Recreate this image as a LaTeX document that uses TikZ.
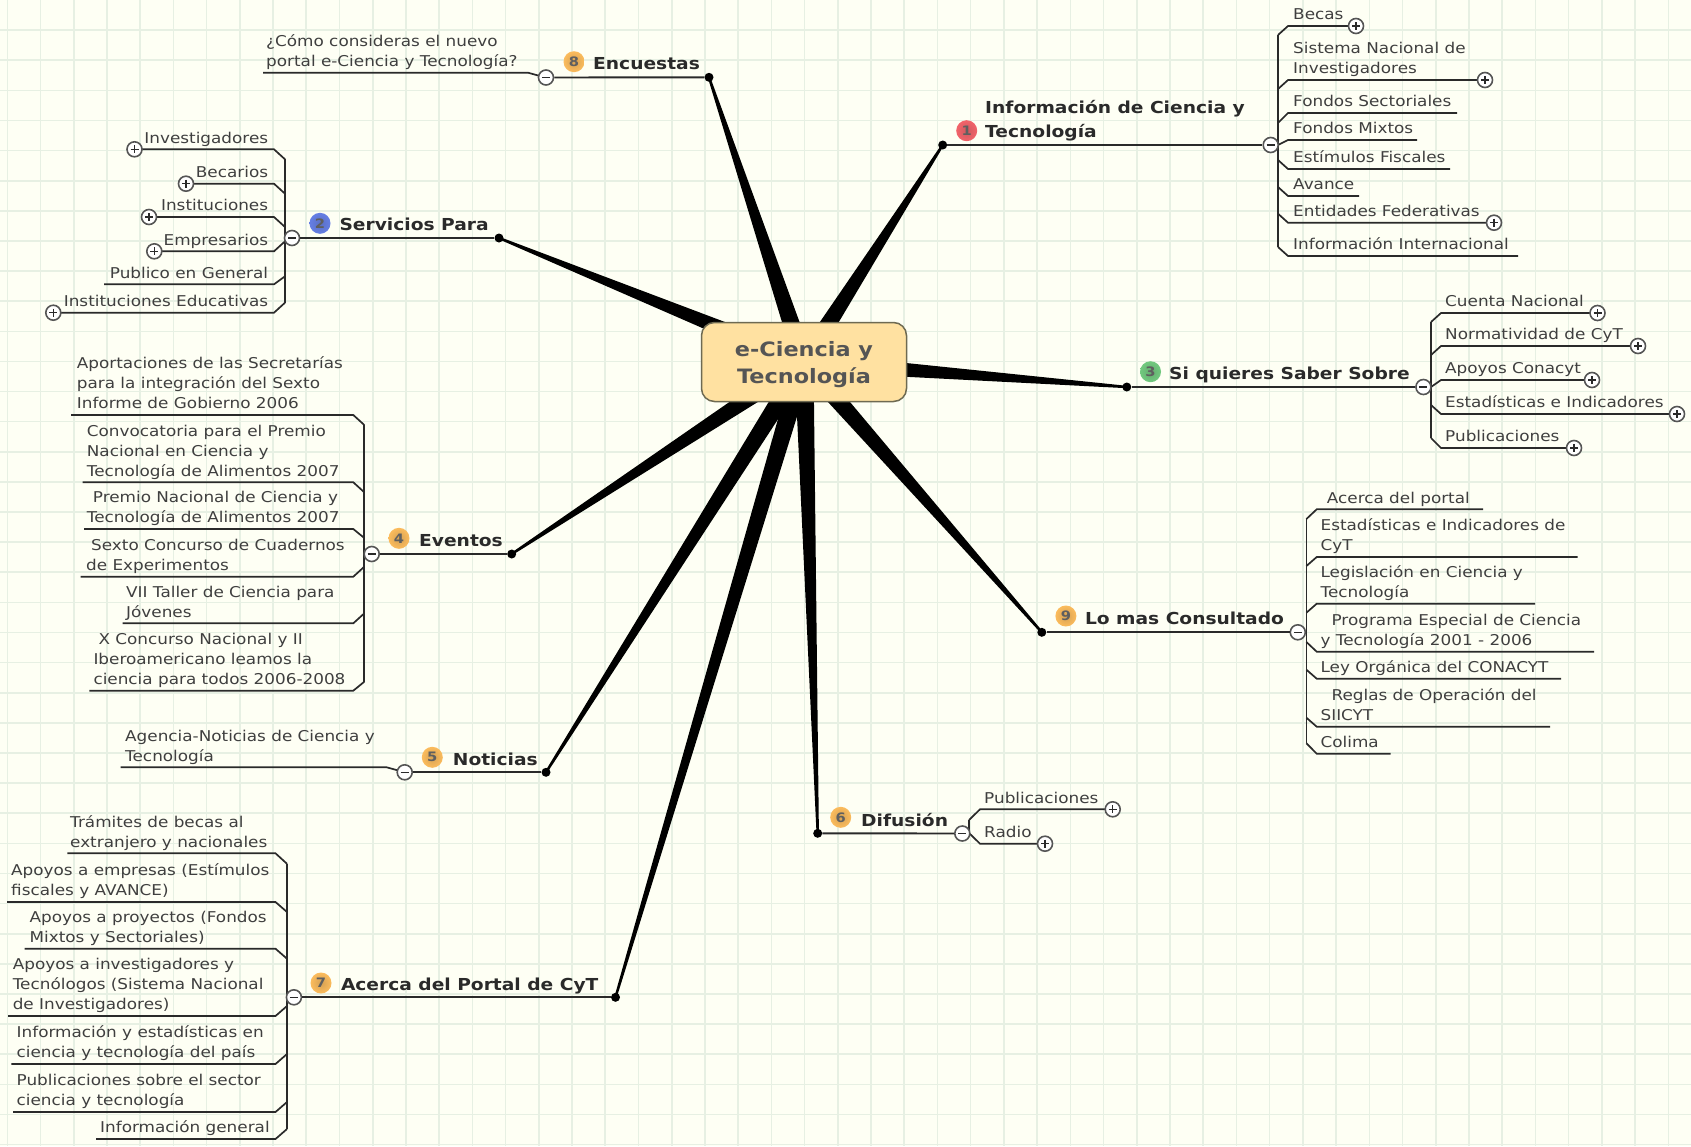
\documentclass[tikz,border=0pt]{standalone}
\usepackage{fontspec}
\setmainfont[FakeStretch=1.13]{DejaVu Sans}
\usetikzlibrary{calc}
\definecolor{hoja}{HTML}{FEFFF4}
\definecolor{rejilla}{HTML}{E7F0E3}
\definecolor{tinta}{HTML}{2A2A2A}
\definecolor{raizfondo}{HTML}{FFE1A1}
\definecolor{raizborde}{HTML}{6E6A52}
\definecolor{raiztexto}{HTML}{555555}
\definecolor{bolarojo}{HTML}{F04850}
\definecolor{bolaazul}{HTML}{4A68E0}
\definecolor{bolaverde}{HTML}{58C068}
\definecolor{bolanaranja}{HTML}{FBB040}
\tikzset{
  gridline/.style={rejilla,line width=1.6pt},
  spoke/.style={fill=black},
  limb/.style={tinta,line width=1.9pt},
  twig/.style={tinta,line width=1.7pt},
  leaf/.style={text=tinta!90,font=\fontsize{14.9}{20}\selectfont,align=left,inner sep=0pt,execute at end node={\strut}},
  limbtext/.style={text=tinta,font=\bfseries\fontsize{16.5}{23.7}\selectfont,align=left,inner sep=0pt,anchor=south west,execute at end node={\strut}},
  dotend/.style={circle,fill=black,inner sep=0pt,minimum size=9pt},
  badge/.style={circle,inner sep=0pt,minimum size=21pt,inner color=#1!70!gray,outer color=#1!85!white,text=tinta!75,font=\bfseries\fontsize{13}{13}\selectfont},
  toggle/.style={circle,draw=tinta!80,line width=1.6pt,fill=white,inner sep=0pt,minimum size=15pt},
  minusdot/.style={toggle,path picture={\draw[tinta,line width=1.4pt] (-4,0) -- (4,0);}},
  plusdot/.style={toggle,path picture={\draw[tinta,line width=1.2pt] (-4,0) -- (4,0) (0,-4) -- (0,4);}},
  rootbox/.style={draw=raizborde,line width=1.5pt,fill=raizfondo,rounded corners=13pt,minimum width=205pt,minimum height=79pt,align=center,text=raiztexto,font=\bfseries\fontsize{19.8}{27}\selectfont},
}
% trunk x, knee x, anchor of the texts, then name/y/rise/free end x/text x/text
\newcommand{\twigs}[4]{%
  \foreach \nm/\yy/\dd/\xe/\xt/\txt in {#4} {
    \coordinate (\nm-t) at (#1,\yy+\dd);
    \coordinate (\nm-k) at (#2,\yy);
    \coordinate (\nm-e) at (\xe,\yy);
    \draw[twig] (\nm-t) -- (\nm-k) -- (\nm-e);
    \node[leaf,anchor=#3] (\nm) at (\xt,\yy) {\txt};
  }%
}
\begin{document}
\begin{tikzpicture}[x=1pt,y=-1pt]
  \useasboundingbox (0,0) rectangle (1691,1146);
  % hoja
  \fill[hoja] (0,0) rectangle (1691,1146);
  \foreach \k in {0,...,50} \draw[gridline] (7.3+33.22*\k,0) -- (7.3+33.22*\k,1146);
  \foreach \k in {1,...,38} \draw[gridline] (0,30.12*\k) -- (1691,30.12*\k);
  % nodo central y ramas gruesas
  \coordinate (hub) at (804,362);
  \node[dotend] (dot1) at (942.7,145) {};
  \node[dotend] (dot2) at (499,238) {};
  \node[dotend] (dot3) at (1126.8,387) {};
  \node[dotend] (dot4) at (511.7,554) {};
  \node[dotend] (dot5) at (546,772.3) {};
  \node[dotend] (dot6) at (817.7,833.3) {};
  \node[dotend] (dot7) at (615.5,997.3) {};
  \node[dotend] (dot8) at (709,77.3) {};
  \node[dotend] (dot9) at (1041.8,632.3) {};
  \foreach \d in {dot1,dot2,dot3,dot4,dot5,dot6,dot7,dot8,dot9}
    \fill[spoke] ($(hub)!9.5pt!90:(\d)$) -- ($(\d.center)!1.2pt!-90:(hub)$) -- ($(\d.center)!1.2pt!90:(hub)$) -- ($(hub)!9.5pt!-90:(\d)$) -- cycle;
  \node[rootbox] (root) at (hub) {\rule{0pt}{21pt}e-Ciencia y\\Tecnología};
  % 1 Informacion
  \twigs{1278}{1288}{south west}{
    becas/26/9/1356/1293/{Becas},
    sistema/80/9/1485/1293/{Sistema Nacional de\\Investigadores},
    fsect/113/10/1457/1293/{Fondos Sectoriales},
    fmixtos/140/5/1417/1293/{Fondos Mixtos},
    festim/169/-9/1450/1293/{Estímulos Fiscales},
    avance/196/-9/1359/1293/{Avance},
    entidades/222.7/-9/1494/1293/{Entidades Federativas},
    interna/256/-9/1518/1293/{Información Internacional}}
  \draw[twig] (becas-t) -- (interna-t);
  \node[minusdot] (minus1) at (1270.7,145) {};
  \draw[limb] (dot1) -- (minus1);
  \node[limbtext] (limb1) at (985,145) {Información de Ciencia y\\Tecnología};
  \node[badge=bolarojo] (badge1) at (966.7,130.7) {1};
  \foreach \nm in {becas,sistema,entidades} \node[plusdot] (\nm-p) at (\nm-e) {};
  % 2 Servicios
  \twigs{285}{274}{south east}{
    invest/149.3/10/134.5/268.3/{Investigadores},
    becarios/183.7/10/186/268.3/{Becarios},
    instit/217/10/149/268.3/{Instituciones},
    empresa/251.3/-10/154.3/268.3/{Empresarios},
    publico/284.3/-8/104/268.3/{Publico en General},
    educativa/312.7/-10/53.3/268.3/{Instituciones Educativas}}
  \draw[twig] (invest-t) -- (educativa-t);
  \node[minusdot] (minus2) at (292,238) {};
  \draw[limb] (dot2) -- (minus2);
  \node[limbtext] (limb2) at (339.3,238) {Servicios Para};
  \node[badge=bolaazul] (badge2) at (320,223.3) {2};
  \foreach \nm in {invest,becarios,instit,empresa,educativa} \node[plusdot] (\nm-p) at (\nm-e) {};
  % 3 Si quieres
  \twigs{1431}{1441}{south west}{
    cuenta/313/9/1597.5/1445/{Cuenta Nacional},
    normat/346/9/1638/1445/{Normatividad de CyT},
    apoyos/380/7/1592/1445/{Apoyos Conacyt},
    estad/414/-9/1677/1445/{Estadísticas e Indicadores},
    publicas/448/-10/1574/1445/{Publicaciones}}
  \draw[twig] (cuenta-t) -- (publicas-t);
  \node[minusdot] (minus3) at (1423.4,387) {};
  \draw[limb] (dot3) -- (minus3);
  \node[limbtext] (limb3) at (1169,387) {Si quieres Saber Sobre};
  \node[badge=bolaverde] (badge3) at (1150.5,371.7) {3};
  \foreach \nm in {cuenta,normat,apoyos,estad,publicas} \node[plusdot] (\nm-p) at (\nm-e) {};
  % 4 Eventos
  \twigs{364.3}{353.3}{south west}{
    aport/415/10/71/76.7/{Aportaciones de las Secretarías\\para la integración del Sexto\\Informe de Gobierno 2006},
    convoc/482.3/10/82.7/86.7/{Convocatoria para el Premio\\Nacional en Ciencia y\\Tecnología de Alimentos 2007},
    premio/529/9/84/86.7/{\hspace*{6pt}Premio Nacional de Ciencia y\\Tecnología de Alimentos 2007},
    sexto/576.7/-10/80.7/86/{\hspace*{5pt}Sexto Concurso de Cuadernos\\de Experimentos},
    taller/623.3/-10/122.7/126/{VII Taller de Ciencia para\\Jóvenes},
    concurso/690.7/-9/89.3/93.3/{\hspace*{5pt}X Concurso Nacional y II\\Iberoamericano leamos la\\ciencia para todos 2006-2008}}
  \draw[twig] (aport-t) -- (concurso-t);
  \node[minusdot] (minus4) at (371.7,554) {};
  \draw[limb] (dot4) -- (minus4);
  \node[limbtext] (limb4) at (419,554) {Eventos};
  \node[badge=bolanaranja] (badge4) at (399,538.3) {4};
  % 5 Noticias
  \twigs{404.7}{386.7}{south west}{
    agencia/767.3/5/120.7/125/{Agencia-Noticias de Ciencia y\\Tecnología}}
  \node[minusdot] (minus5) at (404.7,772.3) {};
  \draw[limb] (dot5) -- (minus5);
  \node[limbtext] (limb5) at (452.7,772.3) {Noticias};
  \node[badge=bolanaranja] (badge5) at (432.3,757.3) {5};
  % 6 Difusion
  \twigs{969}{980}{south west}{
    difpub/809.3/10.7/1112.7/984/{Publicaciones},
    radio/843.7/-10.7/1045/984/{Radio}}
  \draw[twig] (difpub-t) -- (radio-t);
  \node[minusdot] (minus6) at (962.3,833.5) {};
  \draw[limb] (dot6) -- (minus6);
  \node[limbtext] (limb6) at (861,833.5) {Difusión};
  \node[badge=bolanaranja] (badge6) at (840.7,817.3) {6};
  \foreach \nm in {difpub,radio} \node[plusdot] (\nm-p) at (\nm-e) {};
  % 7 Acerca del Portal
  \twigs{287}{275.5}{south west}{
    tramites/853.3/10.5/67.3/70/{Trámites de becas al\\extranjero y nacionales},
    empresas/902/10/7/11/{Apoyos a empresas (Estímulos\\fiscales y AVANCE)},
    proyectos/948.7/10/24.5/29.4/{Apoyos a proyectos (Fondos\\Mixtos y Sectoriales)},
    apoyosinv/1016/-10/8/12.6/{Apoyos a investigadores y\\Tecnólogos (Sistema Nacional\\de Investigadores)},
    infoest/1064/-10/11.4/16.5/{Información y estadísticas en\\ciencia y tecnología del país},
    pubsec/1112/-10/13/16.5/{Publicaciones sobre el sector\\ciencia y tecnología},
    infogen/1139/-10/96/100/{Información general}}
  \draw[twig] (tramites-t) -- (infogen-t);
  \node[minusdot] (minus7) at (293.9,997.3) {};
  \draw[limb] (dot7) -- (minus7);
  \node[limbtext] (limb7) at (340.8,997.3) {Acerca del Portal de CyT};
  \node[badge=bolanaranja] (badge7) at (321,983) {7};
  % 8 Encuestas
  \twigs{546}{528}{south west}{
    nuevo/72.7/5/263/266/{¿Cómo consideras el nuevo\\portal e-Ciencia y Tecnología?}}
  \node[minusdot] (minus8) at (546,77.5) {};
  \draw[limb] (dot8) -- (minus8);
  \node[limbtext] (limb8) at (593,77.3) {Encuestas};
  \node[badge=bolanaranja] (badge8) at (574,61.7) {8};
  % 9 Lo mas Consultado
  \twigs{1306.4}{1316.7}{south west}{
    acerca/509.3/9.7/1483/1326.7/{Acerca del portal},
    estadcyt/557/9/1577.5/1320.4/{Estadísticas e Indicadores de\\CyT},
    legis/603.7/9/1535/1320.4/{Legislación en Ciencia y\\Tecnología},
    programa/651.7/-9.7/1594/1320.4/{\hspace*{11pt}Programa Especial de Ciencia\\y Tecnología 2001 - 2006},
    ley/678.7/-9/1561/1320.4/{Ley Orgánica del CONACYT},
    reglas/726.7/-9/1550/1320.4/{\hspace*{11pt}Reglas de Operación del\\SIICYT},
    colima/753.7/-10.4/1390.7/1320.4/{Colima}}
  \draw[twig] (acerca-t) -- (colima-t);
  \node[minusdot] (minus9) at (1297.8,632.3) {};
  \draw[limb] (dot9) -- (minus9);
  \node[limbtext] (limb9) at (1084.8,632.3) {Lo mas Consultado};
  \node[badge=bolanaranja] (badge9) at (1065.9,616) {9};
\end{tikzpicture}
\end{document}
